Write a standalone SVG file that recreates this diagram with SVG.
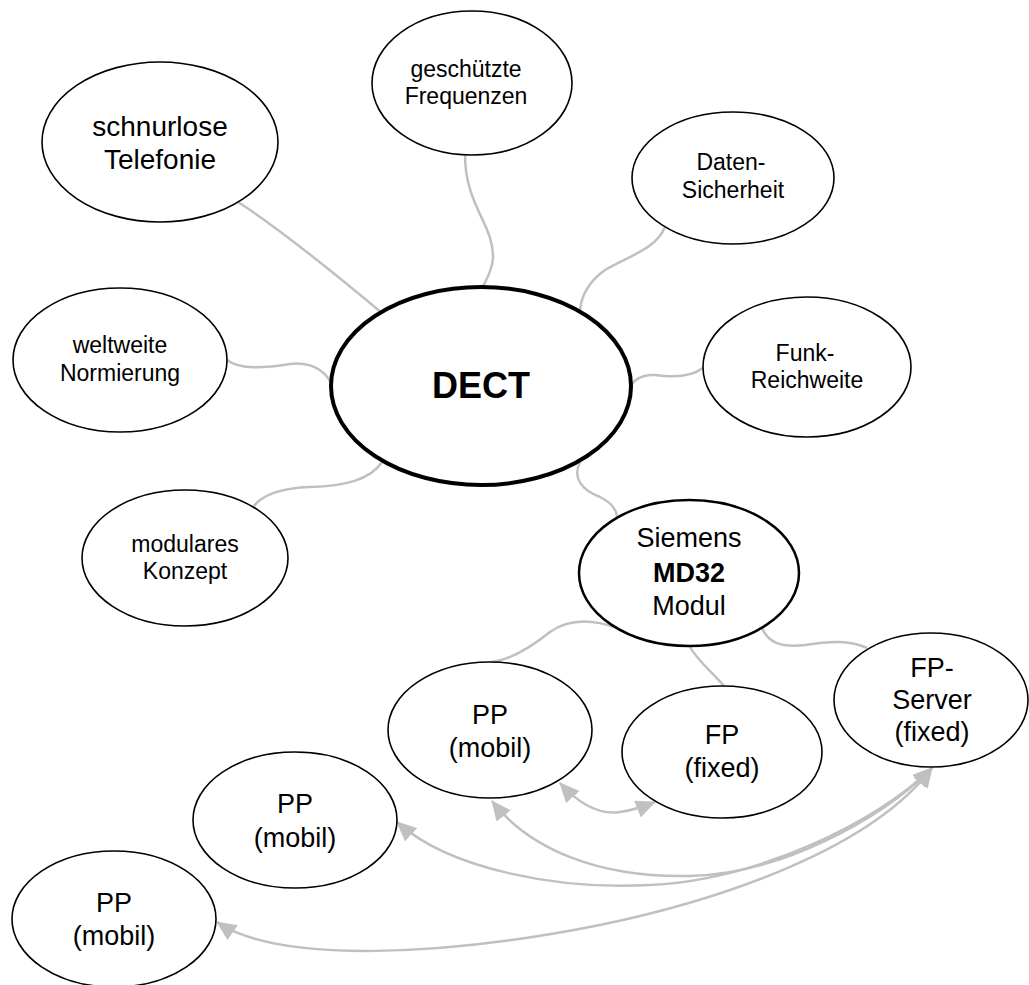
<svg xmlns="http://www.w3.org/2000/svg" width="1029" height="985" viewBox="0 0 1029 985">
<style>
.n{fill:#fff;stroke:#000;stroke-width:1.6}
.t{font-family:"Liberation Sans",Arial,sans-serif;fill:#000;text-anchor:middle}
.s23{font-size:23px}
.s27{font-size:27px}
.s28{font-size:28px}
.c{fill:none;stroke:#c0c0c0;stroke-width:2.5}
.a{fill:none;stroke:#c0c0c0;stroke-width:2.5;marker-start:url(#ah);marker-end:url(#ah)}
</style>
<defs>
<marker id="ah" markerUnits="userSpaceOnUse" markerWidth="20" markerHeight="18" refX="19" refY="9" orient="auto-start-reverse">
<path d="M0,0 L20,9 L0,18 z" fill="#c0c0c0"/>
</marker>
</defs>
<rect width="1029" height="985" fill="#fff"/>
<g id="connectors">
<path class="c" d="M238,202 Q285,232 382,313"/>
<path class="c" d="M465,155 C465,205 494,225 493,258 C492,272 486,280 482,288"/>
<path class="c" d="M665,227 C655,250 630,255 605,270 C588,282 580,298 580,313"/>
<path class="c" d="M227,360 C240,370 265,368 290,364 C315,361 330,375 332,388"/>
<path class="c" d="M382,462 C370,480 345,486 310,487 C280,488 262,495 253,507"/>
<path class="c" d="M703,368 C690,378 670,377 655,375 C640,374 632,382 630,388"/>
<path class="c" d="M580,462 C572,478 582,490 600,497 C612,503 617,510 617,518"/>
<path class="c" d="M617,628 C595,620 570,618 550,632 C530,648 510,660 491,662"/>
<path class="c" d="M690,647 C697,660 712,672 724,686"/>
<path class="c" d="M762,628 C768,642 780,648 805,645 C830,641 850,640 867,648"/>
<path class="a" d="M560,783 C580,805 600,815 620,812 C635,810 645,806 655,802"/>
<path class="a" d="M492,801 C530,850 600,878 690,876 C780,874 880,820 932,768"/>
<path class="a" d="M397,822 C450,870 560,890 650,885 C760,880 880,820 932,768"/>
<path class="a" d="M217,922 C280,965 450,955 600,925 C720,900 870,850 932,768"/>
</g>
<g id="n-schnurlose">
<ellipse class="n" cx="160" cy="142" rx="118" ry="80"/>
<text class="t s28" x="160" y="136">schnurlose</text>
<text class="t s28" x="160" y="169">Telefonie</text>
</g>
<g id="n-frequenzen">
<ellipse class="n" cx="472" cy="83" rx="100" ry="72"/>
<text class="t s23" x="466" y="77">geschützte</text>
<text class="t s23" x="466" y="104">Frequenzen</text>
</g>
<g id="n-daten">
<ellipse class="n" cx="733" cy="178" rx="101" ry="66"/>
<text class="t s23" x="731" y="170">Daten-</text>
<text class="t s23" x="733" y="198">Sicherheit</text>
</g>
<g id="n-weltweite">
<ellipse class="n" cx="120" cy="360" rx="107" ry="72"/>
<text class="t s23" x="120" y="353">weltweite</text>
<text class="t s23" x="120" y="381">Normierung</text>
</g>
<g id="n-dect">
<ellipse cx="481" cy="386" rx="150" ry="99" fill="#fff" stroke="#000" stroke-width="4"/>
<text class="t" x="481" y="398" font-size="36" font-weight="bold">DECT</text>
</g>
<g id="n-funk">
<ellipse class="n" cx="807" cy="367" rx="104" ry="70"/>
<text class="t s23" x="805" y="361">Funk-</text>
<text class="t s23" x="807" y="388">Reichweite</text>
</g>
<g id="n-modulares">
<ellipse class="n" cx="185" cy="558" rx="103" ry="68"/>
<text class="t s23" x="185" y="552">modulares</text>
<text class="t s23" x="185" y="579">Konzept</text>
</g>
<g id="n-siemens">
<ellipse cx="689" cy="573" rx="110" ry="73" fill="#fff" stroke="#000" stroke-width="2.5"/>
<text class="t s27" x="689" y="547">Siemens</text>
<text class="t s27" x="689" y="582" font-weight="bold">MD32</text>
<text class="t s27" x="689" y="615">Modul</text>
</g>
<g id="n-pp1">
<ellipse class="n" cx="490" cy="730" rx="102" ry="68"/>
<text class="t s27" x="490" y="724">PP</text>
<text class="t s27" x="490" y="757">(mobil)</text>
</g>
<g id="n-fp">
<ellipse class="n" cx="722" cy="752" rx="100" ry="66"/>
<text class="t s27" x="722" y="744">FP</text>
<text class="t s27" x="722" y="777">(fixed)</text>
</g>
<g id="n-fpserver">
<ellipse class="n" cx="931" cy="700" rx="97" ry="67"/>
<text class="t s27" x="932" y="677">FP-</text>
<text class="t s27" x="932" y="709">Server</text>
<text class="t s27" x="932" y="741">(fixed)</text>
</g>
<g id="n-pp2">
<ellipse class="n" cx="295" cy="820" rx="102" ry="68"/>
<text class="t s27" x="295" y="813">PP</text>
<text class="t s27" x="295" y="847">(mobil)</text>
</g>
<g id="n-pp3">
<ellipse class="n" cx="114" cy="919" rx="102" ry="68"/>
<text class="t s27" x="114" y="912">PP</text>
<text class="t s27" x="114" y="945">(mobil)</text>
</g>
</svg>
